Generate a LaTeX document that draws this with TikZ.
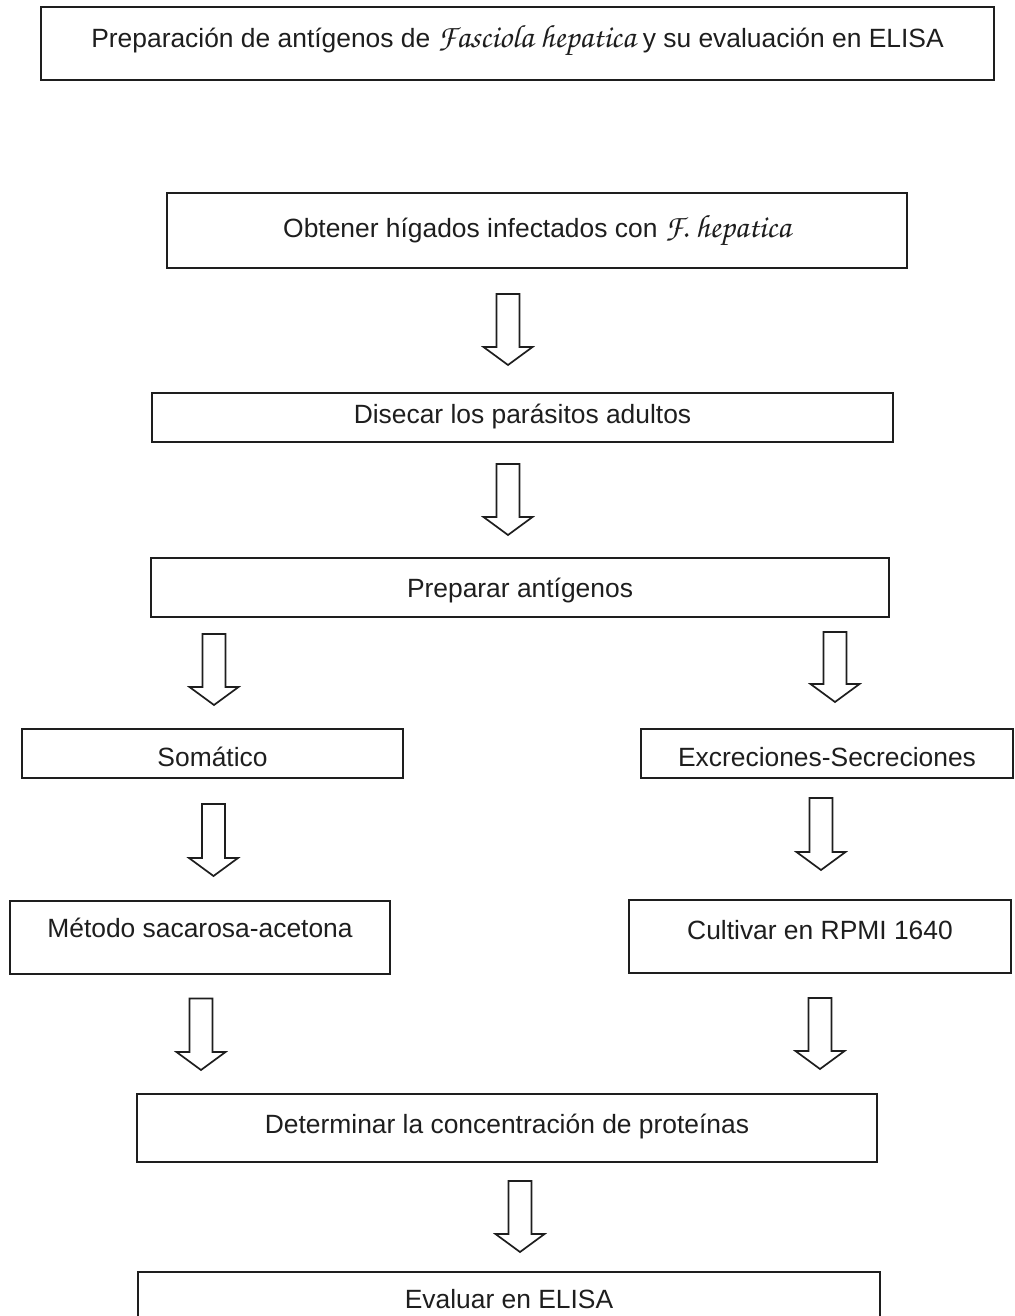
\documentclass[tikz,border=0pt]{standalone}
\usepackage{fontspec}
\setmainfont{Liberation Sans}
\newfontfamily\chorus[Scale=1.22]{texgyrechorus-mediumitalic.otf}
\usepackage{tikz}
\usetikzlibrary{calc}
\definecolor{ink}{HTML}{1E1E1E}
\newcommand{\fsz}{\fontsize{13.2}{16}\selectfont}
\newcommand{\fh}[1]{{\chorus #1}}
\tikzset{
  box/.style={draw=ink, text=ink, line width=1pt, inner sep=0pt, font=\fsz, text height=14pt},
  tx/.style={text depth=#1},
  blockarr/.style={draw=ink, line width=0.85pt, line join=miter,
    to path={let \p1=(\tikztostart), \p2=(\tikztotarget) in
      ({\x1-5.75pt},\y1) -- ({\x1+5.75pt},\y1) -- ({\x1+5.75pt},{\y2+9pt})
      -- ({\x1+12.25pt},{\y2+9pt}) -- (\x1,\y2) -- ({\x1-12.25pt},{\y2+9pt})
      -- ({\x1-5.75pt},{\y2+9pt}) -- cycle}}
}

\begin{document}
\begin{tikzpicture}[x=0.5pt,y=-0.5pt]
\fill[white] (0,0) rectangle (1015,1316);
\useasboundingbox (0,0) rectangle (1015,1316);
\clip (0,0) rectangle (1015,1316);
\node[box, tx=9.5pt, minimum width=476.5pt, minimum height=36.5pt] (title) at (517.5,43.5)
  {Preparación de antígenos de \fh{Fasciola hepatica} y su evaluación en ELISA};
\node[box, tx=6.5pt, minimum width=370pt, minimum height=37.5pt] (obt) at (537,230.5)
  {Obtener hígados infectados con \fh{F. hepatica}};
\node[box, tx=8.5pt, minimum width=370.5pt, minimum height=24.5pt] (dis) at (522.5,417.5)
  {Disecar los parásitos adultos};
\node[box, tx=4.5pt, minimum width=369pt, minimum height=29.5pt] (prep) at (520,587.5)
  {Preparar antígenos};
\node[box, tx=1.5pt, minimum width=190.5pt, minimum height=24.5pt] (som) at (212.5,753.5)
  {Somático};
\node[box, tx=1.5pt, minimum width=186pt, minimum height=24.5pt] (exc) at (827,753.5)
  {Excreciones-Secreciones};
\node[box, tx=14.5pt, minimum width=190pt, minimum height=36.5pt] (met) at (200,937.5)
  {Método sacarosa-acetona};
\node[box, tx=11pt, minimum width=191pt, minimum height=36.5pt] (cul) at (820,936.5)
  {Cultivar en RPMI 1640};
\node[box, tx=9pt, minimum width=370pt, minimum height=34pt] (det) at (507,1128)
  {Determinar la concentración de proteínas};
\node[box, tx=5.5pt, minimum width=371pt, minimum height=28pt] (eva) at (509,1300)
  {Evaluar en ELISA};
\draw[blockarr] ([shift={(-29,25)}]obt.south) to ([shift={(-14.5,-27)}]dis.north);
\draw[blockarr] ([shift={(-14.5,21)}]dis.south) to ([shift={(-12,-22)}]prep.north);
\draw[blockarr] ([shift={(64,16)}]prep.south west) to ([shift={(2.5,-23)}]som.north);
\draw[blockarr] ([shift={(-55,14)}]prep.south east) to ([shift={(7,-26)}]exc.north);
\draw[blockarr] ([shift={(1,25)}]som.south) to ([shift={(13,-24)}]met.north);
\draw[blockarr] ([shift={(-6,19)}]exc.south) to ([shift={(1,-29)}]cul.north);
\draw[blockarr] ([shift={(1,23.5)}]met.south) to ([shift={(64,-23)}]det.north west);
\draw[blockarr] ([shift={(0,24)}]cul.south) to ([shift={(-57,-24)}]det.north east);
\draw[blockarr] ([shift={(13,18)}]det.south) to ([shift={(11,-19)}]eva.north);
\end{tikzpicture}
\end{document}
